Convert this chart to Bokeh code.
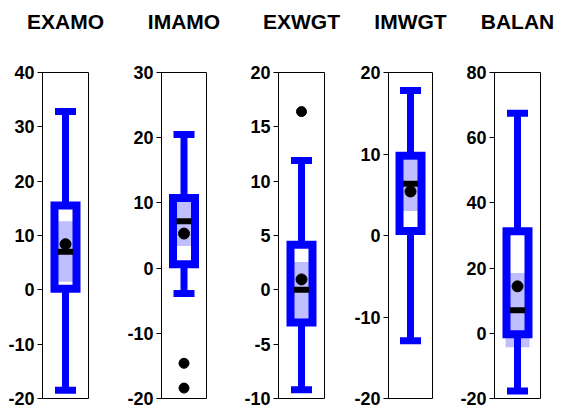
from bokeh.plotting import figure
from bokeh.layouts import row
from bokeh.models import Range1d, FixedTicker, ColumnDataSource, Title
from bokeh.embed import file_html
from bokeh.resources import INLINE
import numpy as np

names = ["EXAMO", "IMAMO", "EXWGT", "IMWGT", "BALAN"]
whisker_lo = [-18.5, -3.9, -9.2, -12.9, -17.7]
q1 = [0.2, 0.6, -3.0, 0.55, -0.3]
median = [7.0, 7.2, 0.0, 6.35, 7.1]
q3 = [15.5, 10.75, 4.16, 9.8, 31.3]
whisker_hi = [32.8, 20.5, 11.9, 17.8, 67.5]
mean = [8.4, 5.3, 0.96, 5.4, 14.4]
ci_lo = [1.5, 3.4, -2.7, 3.0, -4.3]
ci_hi = [12.6, 10.2, 2.55, 9.26, 18.5]
outliers = [[], [-14.6, -18.4], [16.4], [], []]
y_lo = [-20, -20, -10, -20, -20]
y_hi = [40, 30, 20, 20, 80]
tick_step = [10, 10, 5, 10, 20]

# layout (pixels)
borders = [  # left, right, top, bottom
    (42, 30, 70, 16),
    (43, 28, 70, 15),
    (44, 20, 70, 16),
    (44, 18, 72, 12),
    (44, 22, 69, 16),
]
frame_w = [46, 45, 46, 44, 46]

FONT = "Liberation Sans"
BLUE = "#0000FF"
LIGHT = "#BFBFFF"

figs = []
for i, name in enumerate(names):
    l, r, t, b = borders[i]
    p = figure(width=l + frame_w[i] + r, height=414,
               x_range=Range1d(0, 1), y_range=Range1d(y_lo[i], y_hi[i]),
               output_backend="svg", toolbar_location=None,
               x_axis_location=None,
               min_border_left=l, min_border_right=r,
               min_border_top=t, min_border_bottom=b)
    # spacer between the frame and the title
    p.add_layout(Title(text=" ", text_font_size="34px", standoff=0,
                       text_font=FONT), "above")
    p.add_layout(Title(text=name, align="center", text_font=FONT,
                       text_font_style="bold", text_font_size="21px",
                       text_color="black", standoff=0), "above")
    p.xgrid.visible = False
    p.ygrid.visible = False
    p.outline_line_color = "black"
    p.outline_line_width = 1
    p.background_fill_color = "white"
    p.border_fill_color = "white"
    ax = p.yaxis[0]
    ticks = [int(v) for v in np.arange(y_lo[i], y_hi[i] + 0.01, tick_step[i])]
    ax.ticker = FixedTicker(ticks=ticks)
    ax.major_label_overrides = {v: str(v) for v in ticks}
    ax.major_label_text_font = FONT
    ax.major_label_text_font_style = "bold"
    ax.major_label_text_font_size = "18px"
    ax.major_label_text_color = "black"
    ax.major_tick_out = 5
    ax.major_tick_in = 0
    ax.minor_tick_out = 0
    ax.minor_tick_in = 0
    ax.major_label_standoff = 3
    ax.axis_line_color = "black"

    src = ColumnDataSource(dict(
        x=[0.5], q1=[q1[i]], q3=[q3[i]], med=[median[i]], mean=[mean[i]],
        lo=[whisker_lo[i]], hi=[whisker_hi[i]],
        cimid=[(ci_lo[i] + ci_hi[i]) / 2], cih=[ci_hi[i] - ci_lo[i]],
        boxmid=[(q1[i] + q3[i]) / 2], boxh=[q3[i] - q1[i]],
    ))
    # light blue interval
    p.rect(x="x", y="cimid", width=24, height="cih", width_units="screen",
           source=src, fill_color=LIGHT, line_color=None)
    # whiskers
    p.segment(x0="x", y0="q3", x1="x", y1="hi", source=src,
              line_color=BLUE, line_width=7)
    p.segment(x0="x", y0="q1", x1="x", y1="lo", source=src,
              line_color=BLUE, line_width=7)
    # caps
    p.rect(x="x", y="hi", width=21, height=7, width_units="screen",
           height_units="screen", source=src, fill_color=BLUE, line_color=None)
    p.rect(x="x", y="lo", width=21, height=7, width_units="screen",
           height_units="screen", source=src, fill_color=BLUE, line_color=None)
    # box outline
    p.rect(x="x", y="boxmid", width=22, height="boxh", width_units="screen",
           source=src, fill_color=None, line_color=BLUE, line_width=8,
           line_join="miter")
    # median
    p.rect(x="x", y="med", width=15, height=6, width_units="screen",
           height_units="screen", source=src, fill_color="black", line_color=None)
    # mean
    p.scatter(x="x", y="mean", size=11, source=src, fill_color="black",
              line_color="black")
    if outliers[i]:
        p.scatter(x=[0.5] * len(outliers[i]), y=outliers[i], size=10,
                  fill_color="black", line_color="black")
    figs.append(p)

layout = row(*figs, spacing=0)
open("out.html", "w").write(file_html(layout, INLINE))
